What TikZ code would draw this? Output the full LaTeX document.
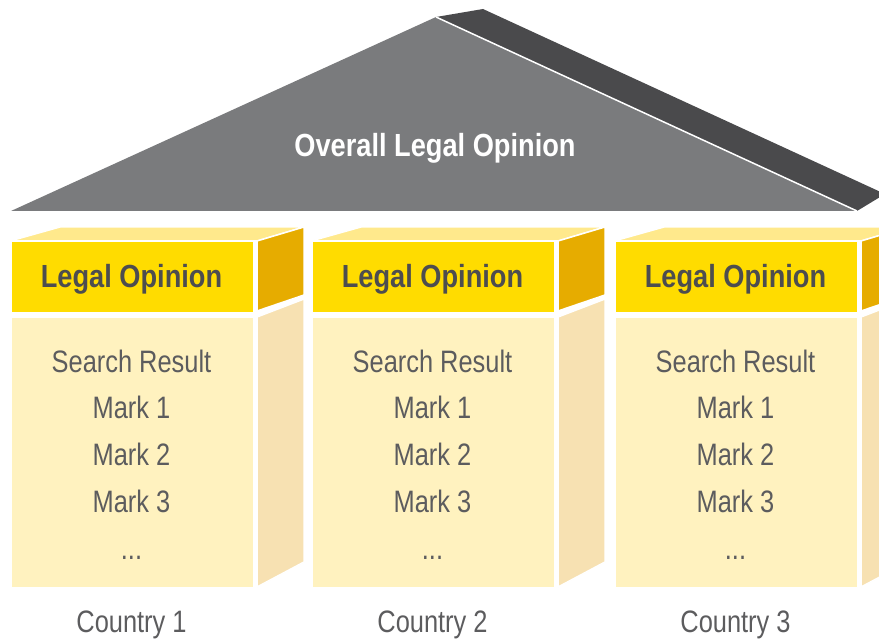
\documentclass[tikz,border=0pt]{standalone}
\usepackage{fontspec}
\setmainfont{Liberation Sans}[FakeStretch=0.82]
\newfontfamily\condbold{Liberation Sans}[FakeStretch=0.85]
\definecolor{roofgray}{HTML}{7A7B7D}
\definecolor{roofdark}{HTML}{4A4A4C}
\definecolor{hdyellow}{HTML}{FFDC00}
\definecolor{topyellow}{HTML}{FFE98C}
\definecolor{sideyellow}{HTML}{E6AC00}
\definecolor{bodycream}{HTML}{FFF2BF}
\definecolor{sidecream}{HTML}{F7E1B2}
\definecolor{darktext}{HTML}{4D4D4F}
\definecolor{greytext}{HTML}{5C5C5E}
\tikzset{
  face/.style={draw=white, line width=1.5pt, line join=miter},
  header/.style={fill=hdyellow, draw=white, line width=1.5pt, anchor=north west, inner sep=0pt,
    minimum width=243pt, minimum height=71pt},
  lower/.style={fill=bodycream, draw=white, line width=1.5pt, anchor=north west, inner sep=0pt,
    minimum width=243pt, minimum height=270pt},
  headtext/.style={anchor=base, text=darktext, inner sep=0pt,
    font=\condbold\bfseries\fontsize{32}{32}\selectfont},
  bodytext/.style={anchor=base, text=greytext, inner sep=0pt,
    font=\fontsize{31}{31}\selectfont},
  rooftext/.style={anchor=base, text=white, inner sep=0pt,
    font=\condbold\bfseries\fontsize{32}{32}\selectfont}
}
\begin{document}
\begin{tikzpicture}[x=1pt,y=-1pt]
\useasboundingbox (0,0) rectangle (879,639);
\clip (0,0) rectangle (879,639);
% roof
\fill[roofdark] (436,17) -- (483,9) -- (885,194) -- (857,211) -- cycle;
\fill[roofgray] (11,211) -- (436,17) -- (857,211) -- cycle;
\draw[white, line width=1.5pt] (436,17) -- (857,211);
\node[rooftext] (overall) at (435,157) {Overall Legal Opinion};
% pillars
\foreach \x/\n in {10/1, 311/2, 614/3}{
  \fill[topyellow, face] (\x,241) -- (\x+50,227) -- (\x+294,227) -- (\x+247,241) -- cycle;
  \fill[sideyellow, face] (\x+247,241) -- (\x+294,227) -- (\x+294,295) -- (\x+247,311) -- cycle;
  \fill[sidecream, face] (\x+247,317) -- (\x+294,299) -- (\x+294,562) -- (\x+247,587) -- cycle;
  \node[header] (head\n) at (\x,241) {};
  \node[headtext] (headlabel\n) at (\x+121.5,288) {Legal Opinion};
  \node[lower] (low\n) at (\x,317) {};
  \node[bodytext] (search\n) at (\x+121.5,372) {Search Result};
  \node[bodytext] (markA\n) at (\x+121.5,418) {Mark 1};
  \node[bodytext] (markB\n) at (\x+121.5,465) {Mark 2};
  \node[bodytext] (markC\n) at (\x+121.5,512) {Mark 3};
  \node[bodytext] (dots\n) at (\x+121.5,559) {...};
  \node[bodytext] (country\n) at (\x+121.5,632) {Country \n};
}
\end{tikzpicture}
\end{document}
